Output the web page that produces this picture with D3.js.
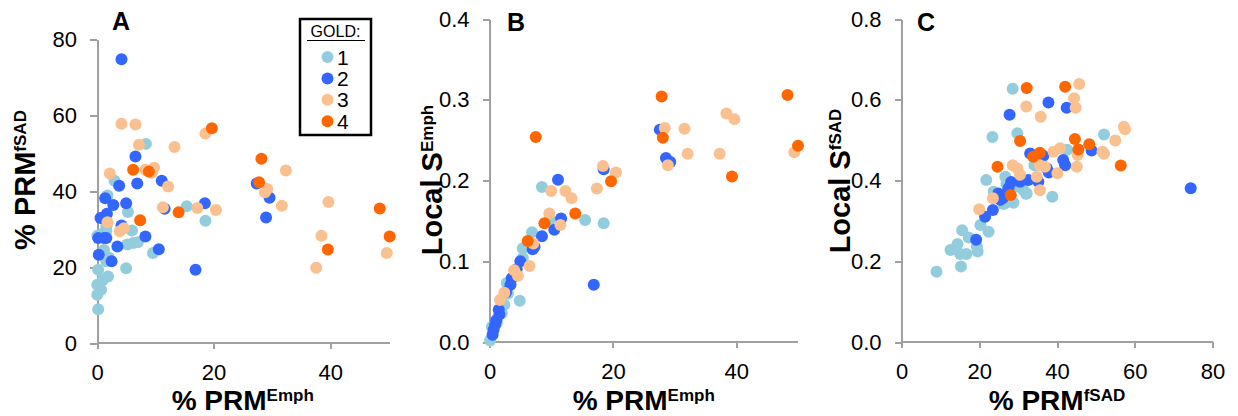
<!DOCTYPE html>
<html lang="en">
<head>
    <meta charset="utf-8">
    <title>GOLD scatter</title>
    <script src="https://d3js.org/d3.v7.min.js" charset="utf-8"></script>
    <style>
        body { margin: 0; background: #fff; }
        .axis path,
        .axis line {
            fill: none;
            stroke: #a0a0a0;
            stroke-width: 2px;
            shape-rendering: crispEdges;
        }
        .axis text {
            font-family: "Liberation Sans", Arial, sans-serif;
            font-size: 22px;
            fill: #000;
        }
        .title {
            font-family: "Liberation Sans", Arial, sans-serif;
            font-weight: bold;
        }
    </style>
</head>
<body>
<script>

    // GOLD groups
    var goldLabels = ["1", "2", "3", "4"]
    var goldColors = ["#93cddd", "#3366ff", "#fac090", "#ff6600"]

    // Panel A: % PRM Emph vs % PRM fSAD
    var aGold1 = [[8.4,52.4],[3.0,42.7],[1.8,38.8],[5.3,34.5],[1.6,30.7],[15.4,36.0],[18.6,32.2],[6.0,29.6],[0.05,28.2],[5.2,25.9],[6.2,26.3],[7.0,26.5],[9.6,23.7],[1.6,21.5],[5.0,19.7],[0.2,19.3],[1.9,17.5],[1.0,16.6],[0.05,15.3],[0.7,14.0],[0.05,12.7],[0.2,8.9],[1.2,24.5],[2.0,22.5],[1.0,28.8],[1.6,29.4]]
    var aGold2 = [[4.2,74.7],[3.8,41.4],[6.6,49.1],[6.9,42.0],[11.1,42.7],[1.4,38.1],[2.8,36.3],[5.0,36.8],[1.7,34.0],[0.6,32.9],[11.6,35.3],[18.5,36.8],[4.2,30.9],[0.2,27.6],[1.2,27.6],[1.6,27.6],[8.3,28.0],[3.5,25.4],[10.6,24.7],[0.3,23.2],[2.5,21.5],[16.9,19.3],[27.4,42.0],[29.6,38.2],[29.0,33.0]]
    var aGold3 = [[4.2,57.7],[6.6,57.5],[7.2,52.2],[13.3,51.6],[18.6,55.1],[2.2,44.6],[8.3,45.6],[9.8,46.1],[9.4,44.8],[12.2,41.2],[1.8,31.8],[11.3,35.7],[17.2,35.5],[20.4,35.0],[3.9,29.4],[4.6,30.2],[32.4,45.4],[28.8,39.7],[29.2,40.5],[31.7,36.1],[39.7,37.1],[38.5,28.2],[49.7,23.7],[37.6,19.8]]
    var aGold4 = [[6.2,45.6],[8.9,45.1],[19.7,56.5],[7.4,32.3],[14.0,34.4],[28.2,48.5],[27.8,42.3],[48.5,35.4],[50.2,28.0],[39.6,24.6]]

    // Panel B: % PRM Emph vs Local S Emph
    var bGold1 = [[8.5,0.192],[15.5,0.151],[18.5,0.147],[6.9,0.136],[5.4,0.116],[5.4,0.104],[9.8,0.152],[2.8,0.073],[4.9,0.051],[2.4,0.046],[2.0,0.036],[1.2,0.024],[0.4,0.019],[0.1,0.002],[3.0,0.060]]
    var bGold2 = [[11.1,0.201],[27.6,0.263],[28.6,0.228],[29.3,0.223],[18.5,0.214],[11.6,0.153],[10.5,0.139],[8.5,0.131],[7.0,0.115],[7.3,0.118],[5.0,0.100],[4.4,0.090],[3.6,0.079],[3.4,0.071],[16.9,0.071],[2.7,0.062],[1.5,0.040],[1.6,0.034],[1.1,0.027],[0.9,0.021],[0.65,0.015],[0.5,0.009]]
    var bGold3 = [[10.0,0.187],[12.3,0.187],[13.3,0.178],[18.4,0.218],[20.5,0.210],[17.4,0.190],[9.7,0.159],[11.5,0.145],[7.1,0.122],[6.5,0.094],[4.0,0.089],[4.6,0.082],[2.4,0.061],[1.7,0.052],[28.4,0.265],[31.6,0.264],[28.9,0.219],[32.1,0.233],[38.4,0.283],[39.7,0.276],[37.3,0.233],[49.4,0.235]]
    var bGold4 = [[7.5,0.254],[27.9,0.304],[28.1,0.253],[39.3,0.205],[48.3,0.306],[50.0,0.243],[19.7,0.199],[13.9,0.159],[8.9,0.147],[6.2,0.125]]

    // Panel C: % PRM fSAD vs Local S fSAD
    var cGold1 = [[28.6,0.627],[23.4,0.508],[29.8,0.517],[52.1,0.514],[42.6,0.476],[34.2,0.438],[26.7,0.409],[21.8,0.401],[32.2,0.368],[31.4,0.376],[38.8,0.360],[23.7,0.372],[26.2,0.342],[28.8,0.345],[32.0,0.367],[26.7,0.344],[9.0,0.174],[15.3,0.187],[12.6,0.228],[14.4,0.243],[15.6,0.277],[15.1,0.218],[16.7,0.218],[17.3,0.259],[19.6,0.224],[19.4,0.236],[20.3,0.290],[22.4,0.273],[30.0,0.385],[27.0,0.392]]
    var cGold2 = [[27.8,0.563],[37.8,0.593],[42.5,0.580],[48.9,0.474],[41.6,0.451],[42.1,0.438],[37.4,0.430],[37.9,0.420],[33.1,0.467],[36.5,0.461],[28.2,0.396],[30.5,0.397],[32.6,0.401],[35.2,0.397],[74.4,0.381],[24.9,0.368],[26.0,0.356],[27.5,0.381],[25.4,0.352],[23.5,0.327],[21.5,0.310],[19.2,0.253]]
    var cGold3 = [[45.7,0.639],[44.4,0.604],[44.8,0.580],[32.1,0.583],[35.8,0.558],[45.3,0.463],[55.0,0.499],[57.2,0.533],[57.5,0.527],[51.7,0.471],[52.1,0.466],[45.1,0.434],[40.8,0.480],[39.1,0.471],[40.1,0.418],[35.6,0.438],[36.9,0.434],[28.6,0.438],[29.8,0.430],[30.5,0.414],[34.8,0.409],[35.6,0.376],[23.5,0.356],[20.0,0.329]]
    var cGold4 = [[32.2,0.629],[42.1,0.632],[30.5,0.498],[44.6,0.503],[45.5,0.477],[48.3,0.490],[56.4,0.437],[33.9,0.459],[35.6,0.469],[24.7,0.434],[28.1,0.364]]

    var aXTicks = [0, 20, 40], aYTicks = [0, 20, 40, 60, 80]
    var bXTicks = [0, 20, 40], bYTicks = [0, 0.1, 0.2, 0.3, 0.4]
    var cXTicks = [0, 20, 40, 60, 80], cYTicks = [0, 0.2, 0.4, 0.6, 0.8]

    var w = 1238, h = 416

    var panels = [
        {name: "A", series: [aGold1, aGold2, aGold3, aGold4], xDom: [0, 50], yDom: [0, 80],
         xTicks: aXTicks, yTicks: aYTicks, yFmt: d3.format("d"),
         left: 97, right: 388.5, top: 39, bottom: 343, axisEnd: 390,
         xTitle: ["% PRM", "Emph"], yTitle: ["% PRM", "fSAD"], yTitleX: 35, yTitleY: 180,
         labelX: 112, labelY: 30},
        {name: "B", series: [bGold1, bGold2, bGold3, bGold4], xDom: [0, 50], yDom: [0, 0.4],
         xTicks: bXTicks, yTicks: bYTicks, yFmt: d3.format(".1f"),
         left: 489.5, right: 798, top: 19, bottom: 342, axisEnd: 798,
         xTitle: ["% PRM", "Emph"], yTitle: ["Local S", "Emph"], yTitleX: 442, yTitleY: 180,
         labelX: 507, labelY: 31},
        {name: "C", series: [cGold1, cGold2, cGold3, cGold4], xDom: [0, 80], yDom: [0, 0.8],
         xTicks: cXTicks, yTicks: cYTicks, yFmt: d3.format(".1f"),
         left: 901.5, right: 1212.5, top: 19, bottom: 342, axisEnd: 1212.5,
         xTitle: ["% PRM", "fSAD"], yTitle: ["Local S", "fSAD"], yTitleX: 850, yTitleY: 181,
         labelX: 917, labelY: 31}
    ]

    var svg = d3.select("body").append("svg").attr("width", w).attr("height", h)

    function buildPanel(p) {
        var xScale = d3.scaleLinear().domain(p.xDom).range([p.left, p.right])
        var yScale = d3.scaleLinear().domain(p.yDom).range([p.bottom, p.top])

        var yAxis = d3.axisLeft(yScale).tickValues(p.yTicks).tickFormat(p.yFmt)
            .tickSizeInner(7).tickSizeOuter(0).tickPadding(13)
        var xAxis = d3.axisBottom(xScale).tickValues(p.xTicks).tickFormat(d3.format("d"))
            .tickSizeInner(6).tickSizeOuter(0).tickPadding(15)

        svg.append("g").attr("class", "axis")
            .attr("transform", "translate(" + p.left + ",0)")
            .call(yAxis)
        var gx = svg.append("g").attr("class", "axis")
            .attr("transform", "translate(0," + p.bottom + ")")
            .call(xAxis)
        // x axis line runs a little past the last value
        gx.select(".domain").attr("d", "M" + p.left + ",0H" + p.axisEnd)

        // points, GOLD 1 first so higher grades sit on top
        p.series.forEach(function(s, i) {
            svg.append("g").selectAll("circle").data(s).enter().append("circle")
                .attr("cx", function(d) { return xScale(d[0]) })
                .attr("cy", function(d) { return yScale(d[1]) })
                .attr("r", 6)
                .attr("fill", goldColors[i])
        })

        // x title
        var xt = svg.append("text").attr("class", "title")
            .attr("x", (p.left + p.right) / 2).attr("y", 410)
            .attr("text-anchor", "middle").style("font-size", "28px")
        xt.append("tspan").text(p.xTitle[0])
        xt.append("tspan").attr("dy", -9.5).style("font-size", "17px").text(p.xTitle[1])

        // y title
        var yt = svg.append("text").attr("class", "title")
            .attr("transform", "translate(" + p.yTitleX + "," + p.yTitleY + ") rotate(-90)")
            .attr("text-anchor", "middle").style("font-size", "29px")
        yt.append("tspan").text(p.yTitle[0])
        yt.append("tspan").attr("dy", -9.5).style("font-size", "17px").text(p.yTitle[1])

        svg.append("text").attr("class", "title")
            .attr("x", p.labelX).attr("y", p.labelY)
            .style("font-size", "25px").text(p.name)
    }

    panels.forEach(buildPanel)

    // legend
    var legend = svg.append("g")
    legend.append("rect").attr("x", 300).attr("y", 19).attr("width", 71).attr("height", 116)
        .attr("fill", "#fff").attr("stroke", "#000").attr("stroke-width", 2.5)
    legend.append("text").attr("x", 335.5).attr("y", 37)
        .attr("text-anchor", "middle")
        .style("font-family", "Liberation Sans, Arial, sans-serif").style("font-size", "16px")
        .text("GOLD:")
    legend.append("line").attr("x1", 307).attr("x2", 365).attr("y1", 40.5).attr("y2", 40.5)
        .attr("stroke", "#000").attr("stroke-width", 1.2)
    goldLabels.forEach(function(lab, i) {
        var cy = 57 + i * 21.4
        legend.append("circle").attr("cx", 327.5).attr("cy", cy).attr("r", 6).attr("fill", goldColors[i])
        legend.append("text").attr("x", 337).attr("y", cy + 7.5)
            .style("font-family", "Liberation Sans, Arial, sans-serif").style("font-size", "21px")
            .text(lab)
    })

</script>
</body>
</html>
